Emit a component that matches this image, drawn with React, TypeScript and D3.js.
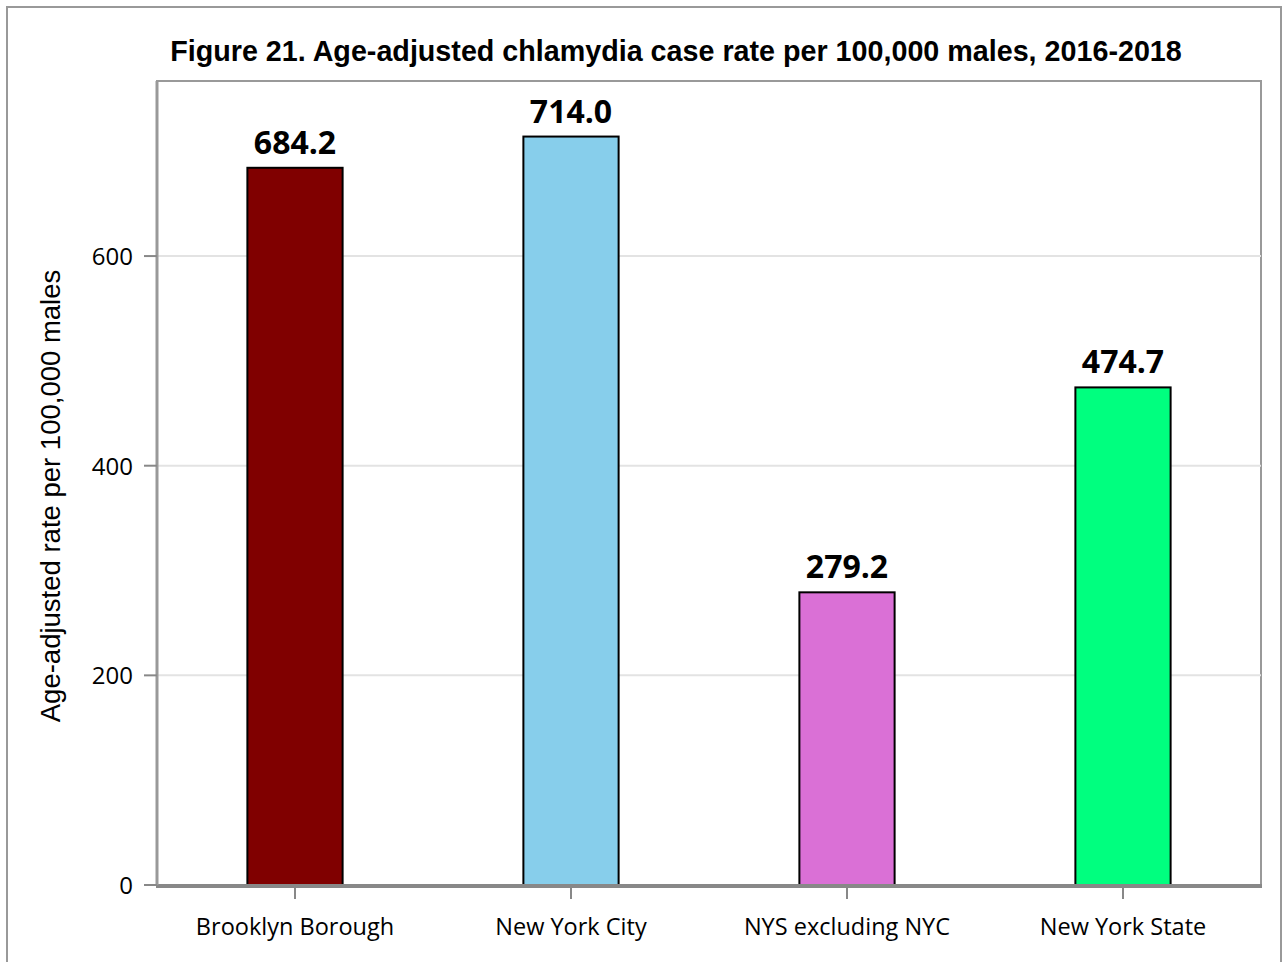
import React from "react";
import * as d3 from "d3";

const categories = ["Brooklyn Borough", "New York City", "NYS excluding NYC", "New York State"];
const values = [684.2, 714.0, 279.2, 474.7];
const valueLabels = ["684.2", "714.0", "279.2", "474.7"];
const colors = ["#800000", "#87CEEB", "#DA70D6", "#00FF7F"];
const yTicks = [0, 200, 400, 600];
const title = "Figure 21. Age-adjusted chlamydia case rate per 100,000 males, 2016-2018";
const yTitle = "Age-adjusted rate per 100,000 males";

export default function App() {
  const W = 1284, H = 962;
  const left = 157, right = 1261, top = 81, bottom = 885;
  const x = d3.scaleBand<string>().domain(categories).range([left, right]).padding(0);
  const y = d3.scaleLinear().domain([0, 767]).range([bottom, top]);
  const barW = x.bandwidth() * 0.345;
  const sans = "'Open Sans', 'Noto Sans', sans-serif";
  const arial = "'Liberation Sans', Arial, sans-serif";
  return (
    <svg width={W} height={H} style={{ position: "absolute", left: 0, top: 0 }}>
      <rect x={0} y={0} width={W} height={H} fill="#fff" />
      <rect x={7} y={7} width={1274} height={960} fill="none" stroke="#999" strokeWidth={2} />
      <text x={676} y={61} textAnchor="middle" fontFamily={arial} fontWeight="bold" fontSize={28.7} fill="#000">{title}</text>
      <rect x={left} y={top} width={right - left} height={bottom - top} fill="none" stroke="#999" strokeWidth={2} />
      {yTicks.filter(t => t > 0).map(t => (
        <line key={t} x1={left} x2={right} y1={y(t)} y2={y(t)} stroke="#e3e3e3" strokeWidth={2} />
      ))}
      {categories.map((c, i) => {
        const cx = x(c)! + x.bandwidth() / 2;
        return (
          <g key={c}>
            <rect x={cx - barW / 2} y={y(values[i])} width={barW} height={y(0) - y(values[i])} fill={colors[i]} stroke="#000" strokeWidth={2} />
            <text x={cx} y={y(values[i]) - 14} textAnchor="middle" fontFamily={sans} fontWeight="bold" fontSize={32} fill="#000">{valueLabels[i]}</text>
            <line x1={cx} x2={cx} y1={bottom} y2={bottom + 14} stroke="#888" strokeWidth={2} />
            <text x={cx} y={935} textAnchor="middle" fontFamily={sans} fontSize={23.5} fill="#000">{c}</text>
          </g>
        );
      })}
      <line x1={left - 1} x2={right + 1} y1={bottom + 1} y2={bottom + 1} stroke="#888" strokeWidth={4} />
      <line x1={left} x2={left} y1={top} y2={bottom} stroke="#999" strokeWidth={3} />
      {yTicks.map(t => (
        <g key={t}>
          <line x1={left - 13} x2={left} y1={y(t)} y2={y(t)} stroke="#888" strokeWidth={2} />
          <text x={133} y={y(t) + 9} textAnchor="end" fontFamily={sans} fontSize={24} fill="#000">{t}</text>
        </g>
      ))}
      <text transform={`translate(60, ${(top + bottom) / 2 + 13}) rotate(-90)`} textAnchor="middle" fontFamily={arial} fontSize={27.5} fill="#000">{yTitle}</text>
    </svg>
  );
}
